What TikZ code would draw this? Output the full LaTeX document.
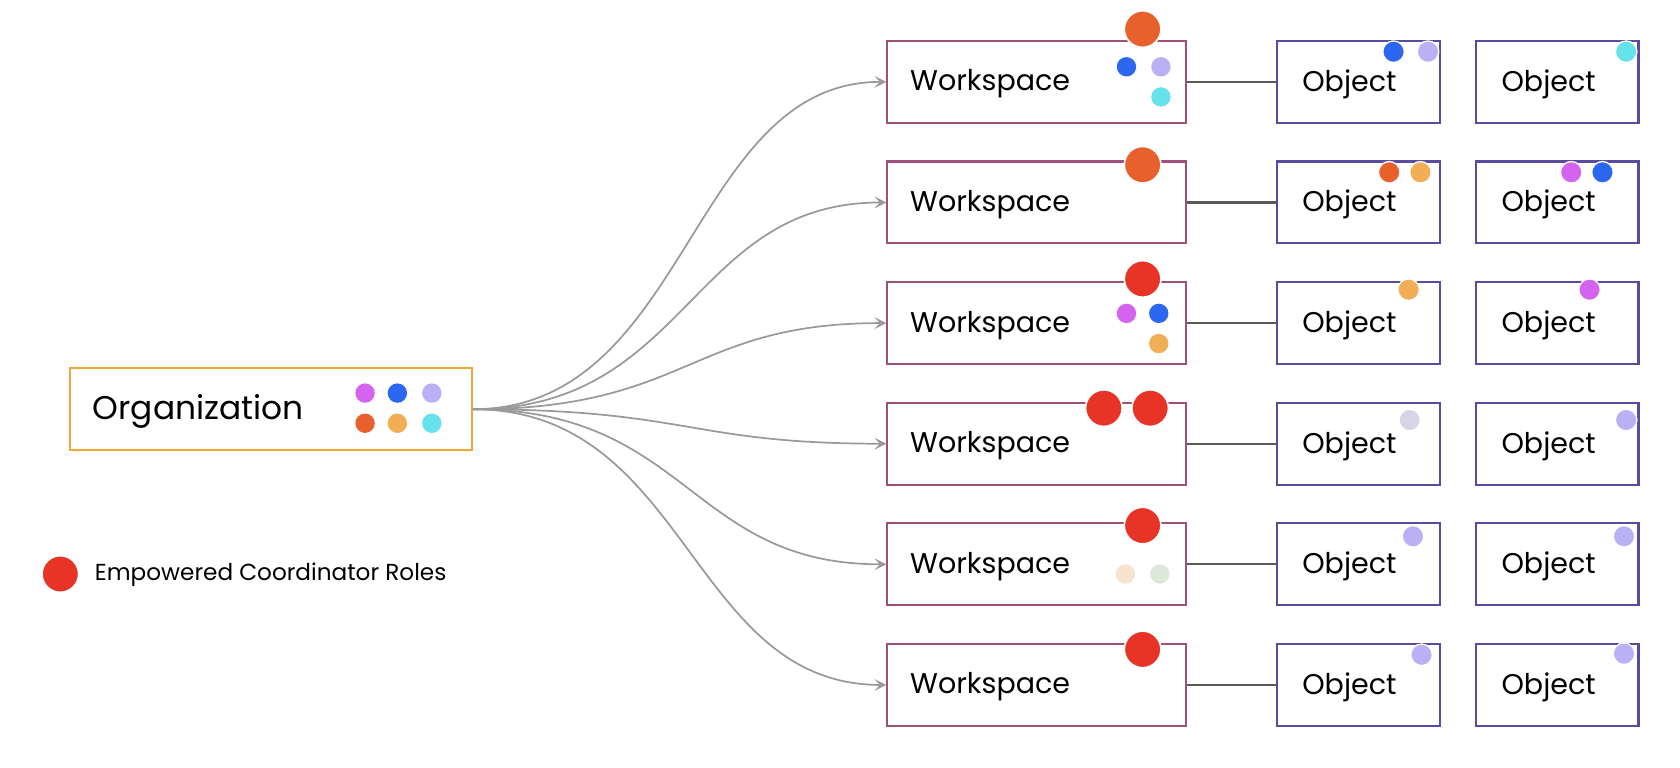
\documentclass[tikz,border=0pt]{standalone}
\usepackage{fontspec}
\setmainfont{Poppins}
\usetikzlibrary{arrows.meta}
\definecolor{cMag}{HTML}{D464F0}
\definecolor{cBlue}{HTML}{2B67F0}
\definecolor{cLav}{HTML}{B9B0F5}
\definecolor{cOr}{HTML}{E8602C}
\definecolor{cYel}{HTML}{F2AE55}
\definecolor{cCyan}{HTML}{66E2EA}
\definecolor{cRed}{HTML}{E83426}
\definecolor{cGray}{HTML}{D8D4E6}
\definecolor{cPeach}{HTML}{F6E4D0}
\definecolor{cGreen}{HTML}{DCE8D8}
\definecolor{wsC}{HTML}{A05078}
\definecolor{obC}{HTML}{5A4AA0}
\definecolor{orgC}{HTML}{F2A73A}
\begin{document}
\begin{tikzpicture}[x=1pt,y=-1pt,
  org/.style={draw=orgC,line width=2pt,minimum width=373pt,minimum height=76pt,inner sep=0pt},
  ws/.style={draw=wsC,line width=2pt,minimum width=277pt,minimum height=76pt,inner sep=0pt},
  ob/.style={draw=obC,line width=2pt,minimum width=151pt,minimum height=76pt,inner sep=0pt},
  lbl/.style={font=\fontsize{26.5}{30}\selectfont,anchor=west,inner sep=0pt},
  arr/.style={draw=black!40,line width=1.6pt,-{Stealth[length=11pt,width=11pt,inset=5pt]}},
  link/.style={draw=black!65,line width=2pt},
  big/.style={circle,fill=#1,draw=white,line width=1.5pt,minimum size=34pt,inner sep=0pt},
  sm/.style={circle,fill=#1,draw=white,line width=1.2pt,minimum size=20pt,inner sep=0pt},
  in/.style={circle,fill=#1,minimum size=18pt,inner sep=0pt}]
\useasboundingbox (0,0) rectangle (1560,713);
\node[org] (org) at (251.5,380) {};
\node[lbl,font=\fontsize{30.5}{34}\selectfont] (orgt) at (86,382) {Organization};
\foreach \c/\x/\y [count=\i] in {cMag/339/365,cBlue/369/365,cLav/401/365,cOr/339/393,cYel/369/393,cCyan/401/393}
  \node[in=\c] (od\i) at (\x,\y) {};
\foreach \r/\y in {1/76,2/188,3/300,4/412,5/524,6/636}{
  \node[ws] (w\r) at (962.5,\y) {};
  \node[lbl] (wt\r) at (845,\y+2) {Workspace};
  \node[ob] (a\r) at (1261.5,\y) {};
  \node[ob] (b\r) at (1446,\y) {};
  \node[font=\fontsize{26.5}{30}\selectfont,inner sep=0pt] (at\r) at (1253,\y+2) {Object};
  \node[font=\fontsize{26.5}{30}\selectfont,inner sep=0pt] (bt\r) at (1438,\y+2) {Object};
  \draw[link] (w\r.east) -- (a\r.west);
  \draw[arr] (org.east) .. controls (640,380) and (640,\y) .. (w\r.west);
}
% big dots
\node[big=cOr] (B1) at (1061,27) {};
\node[big=cOr] (B2) at (1061,153) {};
\node[big=cRed] (B3) at (1061,259) {};
\node[big=cRed] (B4a) at (1025,379) {};
\node[big=cRed] (B4b) at (1068,379) {};
\node[big=cRed] (B5) at (1061,488) {};
\node[big=cRed] (B6) at (1061,603) {};
% inner dots
\node[in=cBlue] (i1a) at (1046,62) {};
\node[in=cLav] (i1b) at (1078,62) {};
\node[in=cCyan] (i1c) at (1078,90) {};
\node[in=cMag] (i3a) at (1046,291) {};
\node[in=cBlue] (i3b) at (1076,291) {};
\node[in=cYel] (i3c) at (1076,319) {};
\node[in=cPeach] (i5a) at (1045,533) {};
\node[in=cGreen] (i5b) at (1077,533) {};
% object dots
\node[sm=cBlue] (s1) at (1294,48) {};
\node[sm=cLav] (s2) at (1326,48) {};
\node[sm=cCyan] (s3) at (1510,48) {};
\node[sm=cOr] (s4) at (1290,160) {};
\node[sm=cYel] (s5) at (1319,160) {};
\node[sm=cMag] (s6) at (1459,160) {};
\node[sm=cBlue] (s7) at (1488,160) {};
\node[sm=cYel] (s8) at (1308,269) {};
\node[sm=cMag] (s9) at (1476,269) {};
\node[sm=cGray] (s10) at (1309,390) {};
\node[sm=cLav] (s11) at (1510,390) {};
\node[sm=cLav] (s12) at (1312,498) {};
\node[sm=cLav] (s13) at (1508,498) {};
\node[sm=cLav] (s14) at (1320,608) {};
\node[sm=cLav] (s15) at (1508,607) {};
% legend
\node[big=cRed] (leg) at (56,533) {};
\node[lbl,font=\fontsize{21.5}{25}\selectfont] (legt) at (88,534) {Empowered Coordinator Roles};
\end{tikzpicture}
\end{document}
